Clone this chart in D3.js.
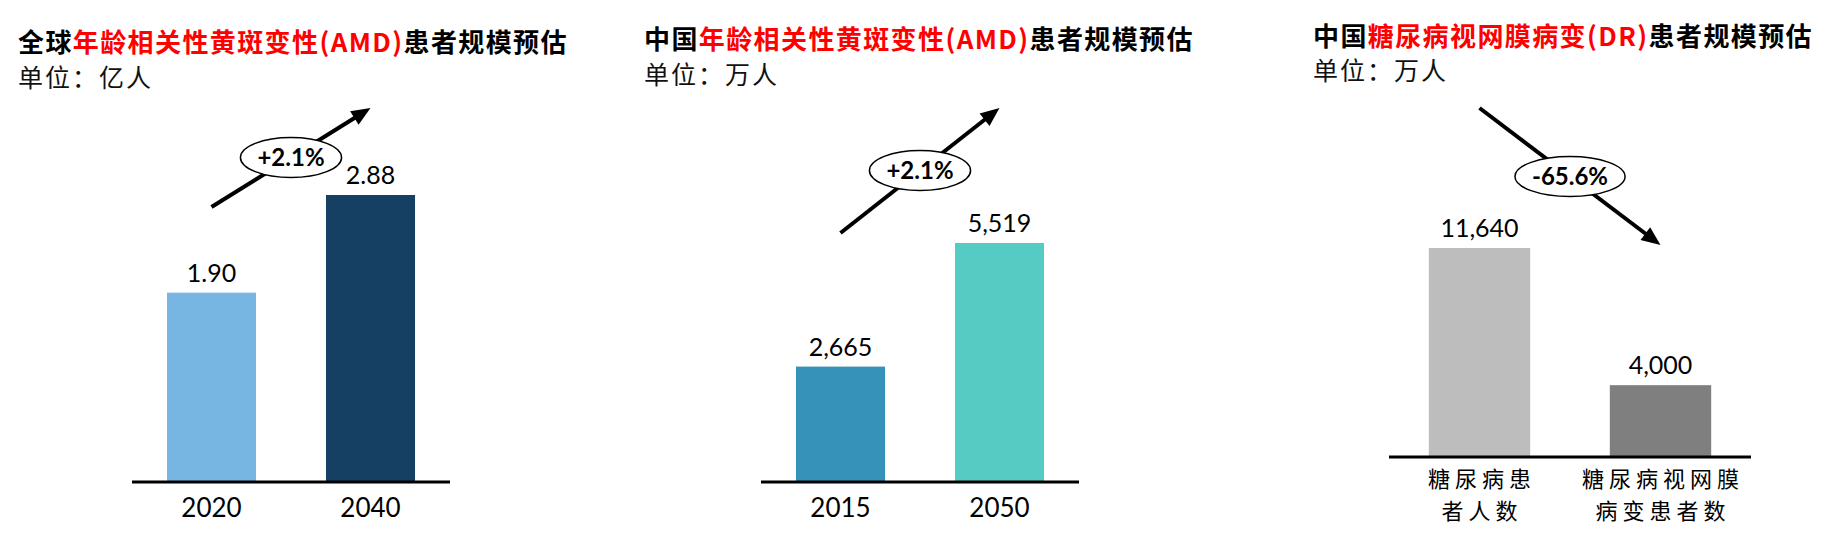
<!DOCTYPE html>
<html>
<head>
<meta charset="utf-8">
<script src="https://cdn.jsdelivr.net/npm/d3@7"></script>
<style>
body{margin:0;background:#fff;}
svg{display:block;}
</style>
</head>
<body>
<script>
// data
var amdWorldYears = ["2020", "2040"];
var amdWorldValues = [1.90, 2.88];
var amdChinaYears = ["2015", "2050"];
var amdChinaValues = [2665, 5519];
var drGroups = ["糖尿病患者人数", "糖尿病视网膜病变患者数"];
var drGroupLines = [["糖尿病患", "者人数"], ["糖尿病视网膜", "病变患者数"]];
var drValues = [11640, 4000];
var growthLabels = ["+2.1%", "+2.1%", "-65.6%"];

var W = 1825, H = 540;
var cjk = "'Noto Sans CJK SC', sans-serif";
var latin = "Lato, 'Noto Sans', sans-serif";

var svg = d3.select("body").append("svg").attr("width", W).attr("height", H);

var panels = [
	{pre: "全球", red: "年龄相关性黄斑变性(AMD)", post: "患者规模预估", unit: "单位：亿人",
	 tx: 18, titleY: 52, unitY: 87,
	 cats: amdWorldYears, lines: amdWorldYears.map(function(d){ return [d]; }), vals: amdWorldValues,
	 colors: ["#77b5e3", "#164063"], fmt: d3.format(".2f"),
	 x0: 132, x1: 450, base: 482, top: 195, arrowY: [207, 108], growth: growthLabels[0], catY: 517, lineGap: 0, cjkCats: false},
	{pre: "中国", red: "年龄相关性黄斑变性(AMD)", post: "患者规模预估", unit: "单位：万人",
	 tx: 644, titleY: 49, unitY: 84,
	 cats: amdChinaYears, lines: amdChinaYears.map(function(d){ return [d]; }), vals: amdChinaValues,
	 colors: ["#3592b8", "#55cbc4"], fmt: d3.format(","),
	 x0: 761, x1: 1079, base: 482, top: 243, arrowY: [233, 108], growth: growthLabels[1], catY: 517, lineGap: 0, cjkCats: false},
	{pre: "中国", red: "糖尿病视网膜病变(DR)", post: "患者规模预估", unit: "单位：万人",
	 tx: 1313, titleY: 46, unitY: 80,
	 cats: drGroups, lines: drGroupLines, vals: drValues,
	 colors: ["#bdbdbd", "#7f7f7f"], fmt: d3.format(","),
	 x0: 1389, x1: 1751, base: 457, top: 248, arrowY: [108, 245], growth: growthLabels[2], catY: 487, lineGap: 32, cjkCats: true}
];

panels.forEach(function(p){
	var g = svg.append("g");

	// title: black / red / black pieces placed one after another
	var cx = p.tx;
	[[p.pre, "#000"], [p.red, "#ff0000"], [p.post, "#000"]].forEach(function(part){
		var t = g.append("text").attr("x", cx).attr("y", p.titleY)
			.attr("fill", part[1])
			.style("font-family", cjk).style("font-weight", 700)
			.style("font-size", "26px").style("letter-spacing", "1.4px")
			.text(part[0]);
		cx += t.node().getComputedTextLength();
	});

	g.append("text")
		.attr("x", p.tx).attr("y", p.unitY)
		.style("font-family", cjk).style("font-weight", 400)
		.style("font-size", "25px").style("letter-spacing", "2px")
		.attr("fill", "#111").text(p.unit);

	var x = d3.scaleBand().domain(p.cats).range([p.x0, p.x1])
		.paddingInner(0.44).paddingOuter(0.22);
	var y = d3.scaleLinear().domain([0, d3.max(p.vals)]).range([p.base, p.top]);

	var rows = p.cats.map(function(c, i){ return {cat: c, val: p.vals[i], color: p.colors[i], lines: p.lines[i]}; });

	g.selectAll("rect.bar").data(rows).enter().append("rect")
		.attr("class", "bar")
		.attr("x", function(d){ return x(d.cat); })
		.attr("width", x.bandwidth())
		.attr("y", function(d){ return y(d.val); })
		.attr("height", function(d){ return y(0) - y(d.val); })
		.attr("fill", function(d){ return d.color; });

	g.selectAll("text.val").data(rows).enter().append("text")
		.attr("class", "val")
		.attr("x", function(d){ return x(d.cat) + x.bandwidth() / 2; })
		.attr("y", function(d){ return y(d.val) - 11; })
		.attr("text-anchor", "middle")
		.style("font-family", latin).style("font-size", "25px")
		.attr("fill", "#000")
		.text(function(d){ return p.fmt(d.val); });

	// axis: only the base line, no ticks
	var axis = g.append("g").attr("transform", "translate(0," + y(0) + ")")
		.call(d3.axisBottom(x).tickSize(0).tickFormat(""));
	axis.select(".domain").attr("stroke", "#000").attr("stroke-width", 3)
		.attr("d", "M" + p.x0 + ",0H" + p.x1);

	// category labels, wrapped lines kept in one text element
	rows.forEach(function(d){
		var t = g.append("text")
			.attr("text-anchor", "middle")
			.attr("fill", "#000");
		if (p.cjkCats) {
			t.style("font-family", cjk).style("font-size", "22px").style("letter-spacing", "5px");
		} else {
			t.style("font-family", latin).style("font-size", "26px");
		}
		d.lines.forEach(function(line, k){
			t.append("tspan")
				.attr("x", x(d.cat) + x.bandwidth() / 2 + (p.cjkCats ? 2.5 : 0))
				.attr("y", p.catY + k * p.lineGap)
				.text(line);
		});
	});

	// growth arrow from bar centre to bar centre
	var ax0 = x(p.cats[0]) + x.bandwidth() / 2, ax1 = x(p.cats[1]) + x.bandwidth() / 2;
	var ay0 = p.arrowY[0], ay1 = p.arrowY[1];
	var dx = ax1 - ax0, dy = ay1 - ay0, len = Math.sqrt(dx * dx + dy * dy);
	var ux = dx / len, uy = dy / len;
	var headL = 19, headW = 8;
	var bx = ax1 - ux * headL, by = ay1 - uy * headL;
	g.append("line")
		.attr("x1", ax0).attr("y1", ay0)
		.attr("x2", bx + ux * 2).attr("y2", by + uy * 2)
		.attr("stroke", "#000").attr("stroke-width", 4);
	g.append("path")
		.attr("d", d3.line()([[ax1, ay1], [bx - uy * headW, by + ux * headW], [bx + uy * headW, by - ux * headW]]) + "Z")
		.attr("fill", "#000");

	var mx = (ax0 + ax1) / 2, my = (ay0 + ay1) / 2;
	var ell = g.append("ellipse").attr("cx", mx).attr("cy", my)
		.attr("fill", "#fff").attr("stroke", "#000").attr("stroke-width", 1.5);
	var gt = g.append("text")
		.attr("x", mx).attr("y", my + 8.5)
		.attr("text-anchor", "middle")
		.style("font-family", latin).style("font-weight", 700).style("font-size", "24px")
		.attr("fill", "#000").text(p.growth);
	var tw = gt.node().getComputedTextLength();
	ell.attr("rx", tw / 2 + 17).attr("ry", 20);
});
</script>
</body>
</html>
